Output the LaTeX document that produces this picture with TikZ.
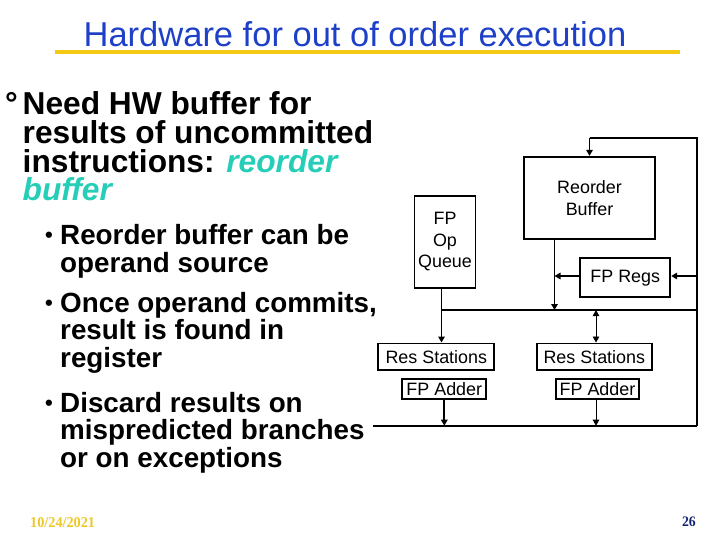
\documentclass[tikz,border=0pt]{standalone}
\usepackage{fontspec}
\setmainfont{Liberation Sans}
\newfontfamily\serifft{Liberation Serif}
\newfontfamily\serifnarrow[FakeStretch=0.95]{Liberation Serif}
\usetikzlibrary{arrows.meta}
\definecolor{titleblue}{RGB}{30,64,200}
\definecolor{baryellow}{RGB}{245,200,20}
\definecolor{tealtxt}{RGB}{38,206,184}
\definecolor{dateyellow}{RGB}{235,200,40}
\definecolor{navytxt}{RGB}{20,35,120}
\tikzset{
  box/.style={draw, line width=1.7pt, inner sep=0pt, align=center,
    font=\fontsize{17.9}{21.5}\selectfont},
  lvlone/.style={anchor=base west, inner sep=0pt, font=\fontsize{31.7}{30}\selectfont\bfseries},
  lvltwo/.style={anchor=base west, inner sep=0pt, font=\fontsize{27.8}{28}\selectfont\bfseries},
  bulletmark/.style={anchor=base west, inner sep=0pt, font=\fontsize{22}{22}\selectfont\bfseries},
  wire/.style={line width=1.8pt},
  thinwire/.style={line width=0.9pt},
  arr/.style={-{Triangle[length=6pt,width=6.5pt]}},
  biarr/.style={{Triangle[length=6pt,width=6.5pt]}-{Triangle[length=6pt,width=6.5pt]}},
}
\begin{document}
\begin{tikzpicture}[x=1pt,y=-1pt]
\useasboundingbox (0,0) rectangle (720,540);
% title
\node[anchor=base, inner sep=0pt, text=titleblue, font=\fontsize{34.5}{36}\selectfont] (title) at (355,46.5) {Hardware for out of order execution};
\fill[baryellow] (55,50) rectangle (680,54.5);
% level one text
\node[lvlone] (deg) at (5,114.7) {°};
\node[lvlone] (l1a) at (22.5,114.7) {Need HW buffer for};
\node[lvlone] (l1b) at (22.5,143.4) {results of uncommitted};
\node[lvlone] (l1c) at (22.5,172.1) {instructions: \textcolor{tealtxt}{\itshape reorder}};
\node[lvlone, text=tealtxt] (l1d) at (22.5,200.8) {\itshape buffer};
% level two text
\node[bulletmark] (b1) at (45,242.5) {•};
\node[lvltwo] (s1a) at (60,244.5) {Reorder buffer can be};
\node[lvltwo] (s1b) at (60,272) {operand source};
\node[bulletmark] (b2) at (45,310) {•};
\node[lvltwo] (s2a) at (60,312) {Once operand commits,};
\node[lvltwo] (s2b) at (60,339.5) {result is found in};
\node[lvltwo] (s2c) at (60,367) {register};
\node[bulletmark] (b3) at (45,410) {•};
\node[lvltwo] (s3a) at (60,412) {Discard results on};
\node[lvltwo] (s3b) at (60,439.5) {mispredicted branches};
\node[lvltwo] (s3c) at (60,467) {or on exceptions};
% footer
\node[anchor=base west, inner sep=0pt, text=dateyellow, font=\serifnarrow\bfseries\fontsize{15}{15}\selectfont] (date) at (30,527.5) {10/24/2021};
\node[anchor=base east, inner sep=0pt, text=navytxt, font=\serifnarrow\bfseries\fontsize{14.5}{15}\selectfont] (pnum) at (696,526.5) {26};
% diagram boxes
\node[box, minimum width=131pt, minimum height=82.6pt] (rob) at (589.5,198) {Reorder\\Buffer};
\node[box, minimum width=61pt, minimum height=92.6pt] (queue) at (445,242) {FP\\Op\\Queue};
\node[box, minimum width=90pt, minimum height=39pt] (regs) at (625.3,277.8) {FP Regs};
\node[box, minimum width=116pt, minimum height=26.7pt] (rs1) at (436.3,356.7) {Res Stations};
\node[box, minimum width=84pt, minimum height=20.3pt] (fa1) at (444.3,388.8) {FP Adder};
\node[box, minimum width=115.3pt, minimum height=26.7pt] (rs2) at (594.3,356.7) {Res Stations};
\node[box, minimum width=83.6pt, minimum height=20.3pt] (fa2) at (597.5,388.8) {FP Adder};
% reference coordinates
\coordinate (tl) at (589.5,137.7);
\coordinate (tr) at (697,137.7);
\coordinate (br) at (697,425.7);
\coordinate (bl) at (373,425.7);
\coordinate (busL) at (441.5,310);
\coordinate (busR) at (697,310);
\coordinate (robx) at (554.5,0);
\coordinate (rs2x) at (596,0);
\coordinate (regy) at (0,276);
\coordinate (regL) at (554.5,276);
\coordinate (regR) at (697,276);
% connectors
\draw[wire] (rob.north |- tl) -- (tr) -- (br);
\draw[wire, arr] (tl) -- (rob.north);
\draw[wire] (br) -- (bl);
\draw[wire] (busL) -- (busR);
\draw[wire, arr] (rob.south -| robx) -- (robx |- busL);
\draw[wire, arr] (regs.west |- regy) -- (regL);
\draw[wire, arr] (regR) -- (regs.east |- regy);
\draw[wire, arr] (queue.south -| busL) -- (rs1.north -| busL);
\draw[thinwire, biarr] (rs2x |- busL) -- (rs2.north -| rs2x);
\draw[wire, arr] (fa1.south) -- (fa1.south |- bl);
\draw[thinwire, arr] (fa2.south -| rs2x) -- (rs2x |- bl);
\end{tikzpicture}
\end{document}
